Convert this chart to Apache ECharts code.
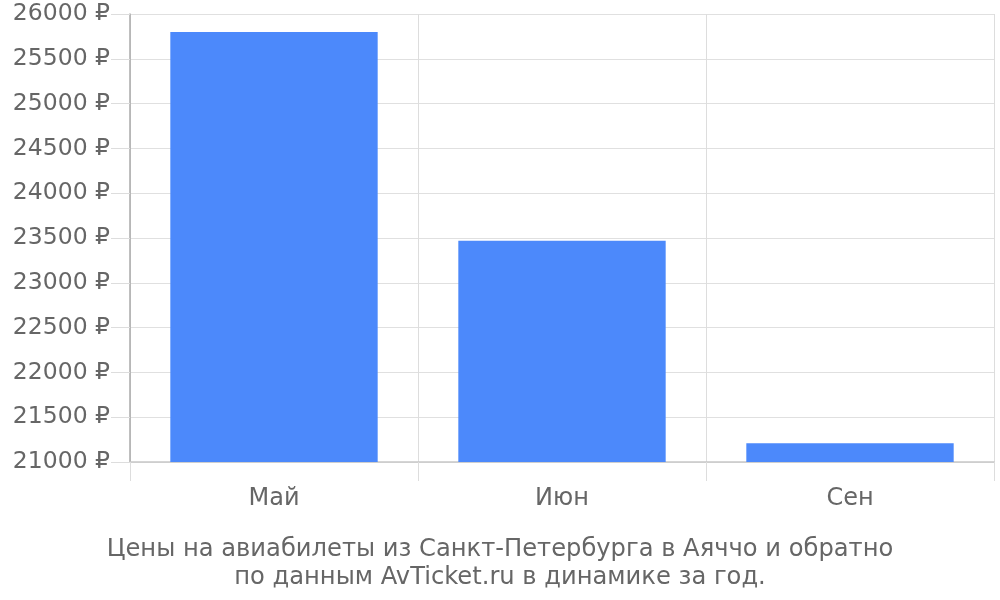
<!DOCTYPE html>
<html><head><meta charset="utf-8">
<script src="https://cdn.jsdelivr.net/npm/echarts@6/dist/echarts.min.js"></script>
<style>html,body{margin:0;padding:0;background:#fff}#c{width:1000px;height:600px}</style>
</head><body><div id="c"></div>
<script>
const categories = ['Май', 'Июн', 'Сен'];
const prices = [25800, 23470, 21210];
const titleLines = ['Цены на авиабилеты из Санкт-Петербурга в Аяччо и обратно', 'по данным AvTicket.ru в динамике за год.'];

const chart = echarts.init(document.getElementById('c'), null, {renderer: 'canvas'});
const font = 'DejaVu Sans';
chart.setOption({
  animation: false,
  title: {
    text: titleLines.join('\n'),
    left: 'center', top: 531,
    textStyle: {fontFamily: font, fontSize: 24.2, fontWeight: 'normal', color: '#666', lineHeight: 28}
  },
  grid: {left: 130, right: 6, top: 14, bottom: 138, containLabel: false},
  xAxis: {
    type: 'category', data: categories,
    axisLine: {show: true, lineStyle: {color: '#c8c8c8', width: 1.5}},
    axisTick: {show: true, length: 19, alignWithLabel: false, lineStyle: {color: '#ddd'}},
    splitLine: {show: true, lineStyle: {color: '#ddd'}},
    axisLabel: {fontFamily: font, fontSize: 24, color: '#666', margin: 25}
  },
  yAxis: {
    type: 'value', min: 21000, max: 26000, interval: 500,
    axisLine: {show: true, lineStyle: {color: '#aaa', width: 1.5}},
    axisTick: {show: true, length: 19, lineStyle: {color: '#ddd'}},
    splitLine: {show: true, lineStyle: {color: '#e0e0e0'}},
    axisLabel: {fontFamily: font, fontSize: 23.5, color: '#666', margin: 20, formatter: v => v + ' ₽'}
  },
  series: [{
    type: 'bar', data: prices, barCategoryGap: '28%',
    itemStyle: {color: '#4c89fb'}
  }]
});
</script></body></html>
